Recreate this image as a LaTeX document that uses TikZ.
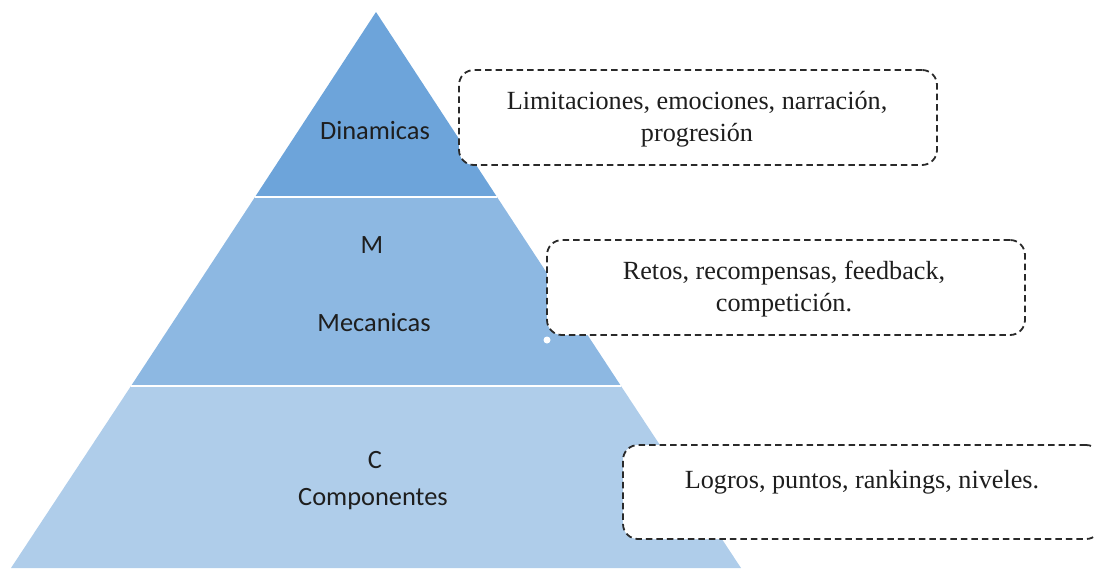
\documentclass[tikz,border=0pt]{standalone}
\usepackage{fontspec}
\setmainfont{Liberation Serif}
\newfontfamily\labfont{Carlito}
\definecolor{layA}{HTML}{6DA4DA}
\definecolor{layB}{HTML}{8DB8E2}
\definecolor{layC}{HTML}{AFCDEA}
\definecolor{ink}{HTML}{1E1E1E}
\definecolor{dashc}{HTML}{2A2A2A}
\tikzset{
  layerlab/.style={font=\labfont\fontsize{26.4}{30}\selectfont, text=ink, inner sep=0pt, anchor=center},
  boxtxt/.style={font=\fontsize{26.2}{32}\selectfont, text=ink, align=center, inner sep=0pt},
  notebox/.style={draw=dashc, line width=1.8pt, dash pattern=on 6.5pt off 4pt, rounded corners=15pt, fill=white, inner sep=0pt},
  sep/.style={draw=white, line width=2pt}
}
\begin{document}
\begin{tikzpicture}[x=1pt,y=-1pt]
\useasboundingbox (0,0) rectangle (1094,568);
\clip (0,0) rectangle (1094,568);
% pyramid layers
\coordinate (apex) at (376,12);
\coordinate (l1) at (255,197); \coordinate (r1) at (497,197);
\coordinate (l2) at (131,386); \coordinate (r2) at (621,386);
\coordinate (l3) at (11,568);  \coordinate (r3) at (741,568);
\fill[layA] (apex) -- (r1) -- (l1) -- cycle;
\fill[layB] (l1) -- (r1) -- (r2) -- (l2) -- cycle;
\fill[layC] (l2) -- (r2) -- (r3) -- (l3) -- cycle;
\draw[sep] (l1) -- (r1);
\draw[sep] (l2) -- (r2);
% layer labels
\node[layerlab] (din) at (375,131) {Dinamicas};
\node[layerlab] (mm) at (372,245) {M};
\node[layerlab] (mec) at (374,323) {Mecanicas};
\node[layerlab] (cc) at (375,460) {C};
\node[layerlab] (comp) at (373,499) {Componentes};
% note boxes
\node[notebox, minimum width=478pt, minimum height=95pt] (b1) at (698,117.5) {};
\node[notebox, minimum width=478pt, minimum height=95pt] (b2) at (786,287.5) {};
\node[notebox, minimum width=478pt, minimum height=94pt] (b3) at (862,492) {};
\node[circle, fill=white, inner sep=0pt, minimum size=7pt] (dot) at (547,340) {};
\node[boxtxt] (t1a) at (697,102) {Limitaciones, emociones, narración,};
\node[boxtxt] (t1b) at (697,135) {progresión};
\node[boxtxt] (t2a) at (784,273) {Retos, recompensas, feedback,};
\node[boxtxt] (t2b) at (784,305) {competición.};
\node[boxtxt] (t3) at (862,482) {Logros, puntos, rankings, niveles.};
\end{tikzpicture}
\end{document}
